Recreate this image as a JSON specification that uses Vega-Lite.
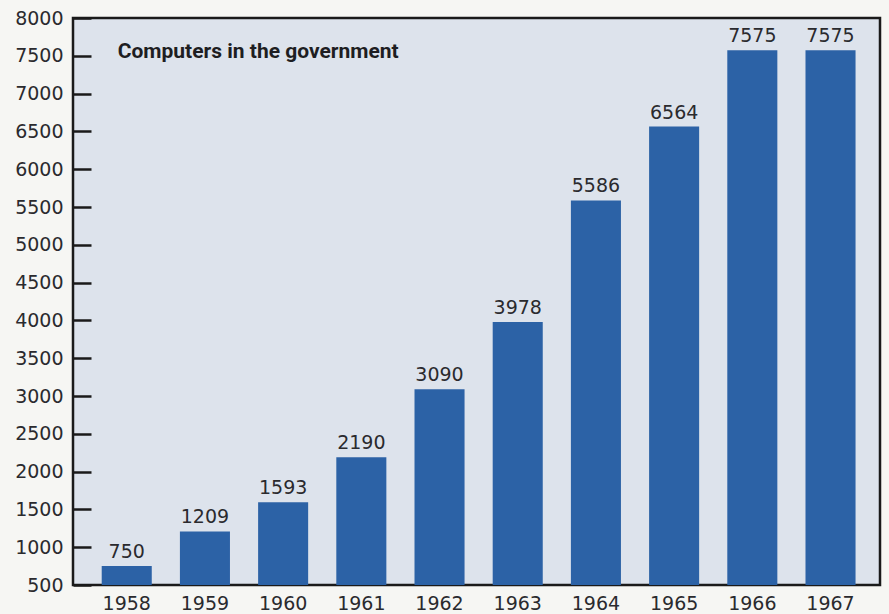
{
  "$schema": "https://vega.github.io/schema/vega-lite/v6.json",
  "autosize": "none",
  "width": 807,
  "height": 567,
  "padding": {"left": 73, "top": 18, "right": 9, "bottom": 29},
  "background": "#f6f6f3",
  "config": {
    "view": {"fill": "#dde3ec", "stroke": "#1a1a1a", "strokeWidth": 2.5},
    "font": "DejaVu Sans",
    "axisY": {
      "title": null,
      "format": "d",
      "values": [500, 1000, 1500, 2000, 2500, 3000, 3500, 4000, 4500, 5000, 5500, 6000, 6500, 7000, 7500, 8000],
      "grid": false,
      "domain": false,
      "labelOverlap": false,
      "labelBound": false,
      "labelFlush": false,
      "tickSize": -18,
      "tickWidth": 2.5,
      "tickColor": "#1a1a1a",
      "labelPadding": 28,
      "labelFontSize": 19,
      "labelColor": "#2a2a2e",
      "labelFont": "DejaVu Sans"
    },
    "axisX": {
      "title": null,
      "labelAngle": 0,
      "ticks": false,
      "domain": false,
      "labelPadding": 9,
      "labelFontSize": 19,
      "labelColor": "#2a2a2e",
      "labelFont": "DejaVu Sans"
    }
  },
  "datasets": {
    "counts": [
      {"year": "1958", "computers": 750},
      {"year": "1959", "computers": 1209},
      {"year": "1960", "computers": 1593},
      {"year": "1961", "computers": 2190},
      {"year": "1962", "computers": 3090},
      {"year": "1963", "computers": 3978},
      {"year": "1964", "computers": 5586},
      {"year": "1965", "computers": 6564},
      {"year": "1966", "computers": 7575},
      {"year": "1967", "computers": 7575}
    ],
    "heading": [
      {"label": "Computers in the government", "year": "1958", "level": 7550}
    ]
  },
  "data": {"name": "counts"},
  "encoding": {
    "x": {
      "field": "year",
      "type": "ordinal",
      "title": null,
      "scale": {"paddingInner": 0.36, "paddingOuter": 0.34, "align": 0.54}
    }
  },
  "layer": [
    {
      "mark": {"type": "bar", "color": "#2c62a6", "clip": true},
      "encoding": {
        "y": {
          "field": "computers",
          "type": "quantitative",
          "title": null,
          "scale": {"domain": [500, 8000], "nice": false, "zero": false}
        },
        "y2": {"datum": 500}
      }
    },
    {
      "mark": {"type": "text", "baseline": "bottom", "dy": -4, "fontSize": 19, "color": "#2a2a2e", "font": "DejaVu Sans"},
      "encoding": {
        "y": {"field": "computers", "type": "quantitative", "title": null},
        "text": {"field": "computers", "type": "quantitative", "format": "d"}
      }
    },
    {
      "data": {"name": "heading"},
      "mark": {"type": "text", "align": "left", "baseline": "middle", "dx": -9, "fontSize": 21, "fontWeight": "bold", "font": "Roboto", "color": "#1e1e22"},
      "encoding": {
        "y": {"field": "level", "type": "quantitative", "title": null},
        "text": {"field": "label", "type": "nominal"}
      }
    }
  ]
}
